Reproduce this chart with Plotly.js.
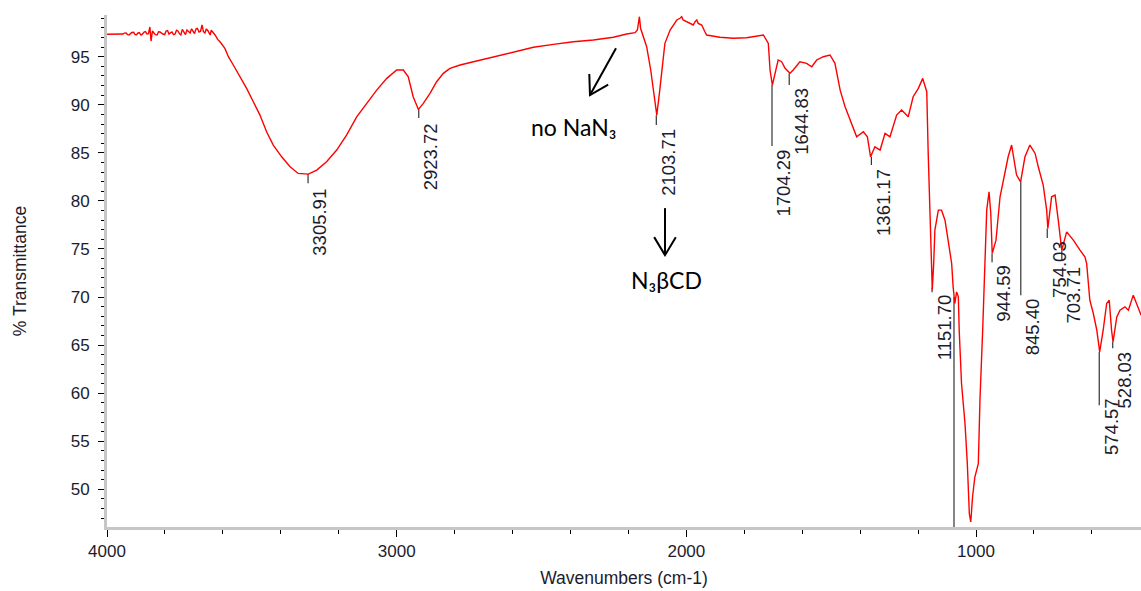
<!DOCTYPE html>
<html><head><meta charset="utf-8">
<script src="https://cdn.plot.ly/plotly-3.0.1.min.js"></script>
<style>html,body{margin:0;padding:0;background:#fff}#chart{width:1141px;height:591px}</style>
</head><body><div id="chart"></div>
<script>
const wavenumber = [4000,3950,3945,3940,3934,3929,3924,3919,3914,3908,3903,3898,3893,3888,3883,3878,3872,3867,3862,3857,3852,3848,3843,3838,3833,3827,3822,3817,3812,3807,3801,3796,3791,3786,3781,3776,3770,3765,3760,3755,3750,3745,3740,3734,3729,3724,3719,3713,3708,3703,3698,3693,3688,3682,3677,3672,3667,3662,3657,3651,3648,3644,3640,3635,3627,3618,3610,3593,3581,3564,3541,3518,3495,3472,3449,3426,3397,3368,3340,3305,3276,3242,3207,3173,3138,3104,3069,3034,3000,2977,2960,2943,2925,2908,2885,2862,2839,2816,2781,2735,2666,2597,2528,2459,2390,2321,2252,2206,2177,2169,2162,2158,2149,2137,2123,2112,2102,2093,2085,2074,2056,2033,2022,2016,2011,1999,1987,1976,1970,1964,1959,1947,1936,1930,1884,1838,1792,1746,1734,1717,1711,1703,1694,1683,1671,1659,1642,1631,1608,1585,1567,1550,1527,1504,1487,1469,1452,1435,1412,1389,1375,1364,1349,1331,1314,1297,1274,1257,1234,1217,1199,1184,1170,1165,1159,1155,1151,1146,1142,1130,1119,1107,1096,1084,1079,1073,1067,1061,1058,1050,1038,1030,1023,1018,1012,1004,992,986,977,969,963,955,949,944,931,917,900,889,877,860,846,831,814,796,785,768,756,752,739,727,716,704,687,664,641,624,618,607,595,583,573,561,549,540,532,527,514,503,486,474,457,440,430];
const transmittance = [97.33,97.33,97.36,97.45,97.47,97.30,97.26,97.40,97.52,97.55,97.31,97.28,97.47,97.50,97.26,97.35,97.57,97.62,97.36,97.40,98.09,96.63,97.70,97.47,97.30,97.26,97.60,97.57,97.45,97.36,97.30,97.68,97.72,97.36,97.48,97.57,97.30,97.36,97.75,97.68,97.40,97.26,97.85,97.47,97.30,97.78,97.60,97.47,97.90,97.68,97.40,97.88,97.95,97.57,97.65,98.30,97.60,97.47,97.90,97.68,97.50,97.26,97.75,97.60,97.26,96.80,96.56,95.87,95.00,94.14,92.92,91.71,90.32,88.93,87.19,85.81,84.59,83.55,82.86,82.79,83.21,84.07,85.29,86.85,88.75,90.15,91.53,92.75,93.62,93.62,92.92,90.84,89.52,90.15,91.19,92.40,93.27,93.79,94.14,94.48,95.00,95.52,95.98,96.29,96.56,96.74,97.02,97.36,97.50,97.78,99.16,97.96,97.08,96.04,93.62,91.19,88.93,91.19,93.62,96.39,97.78,98.82,99.00,99.16,98.82,98.64,98.47,98.30,98.64,98.82,98.47,98.30,97.60,97.26,97.02,96.92,96.98,97.26,97.26,96.39,93.62,92.05,93.27,94.66,94.48,93.79,93.27,93.62,94.48,94.31,93.96,94.66,95.00,95.18,94.31,91.53,89.80,88.41,86.67,87.19,86.67,84.59,85.63,85.29,87.03,86.67,88.93,89.45,88.75,90.84,91.71,92.75,91.36,84.94,78.00,72.45,70.80,73.50,76.96,79.04,79.04,78.00,75.92,73.49,71.06,69.33,70.54,70.02,66.55,61.00,56.84,52.68,47.47,46.60,49.20,51.28,52.68,59.61,66.55,73.49,79.04,80.95,78.70,74.54,75.92,80.43,83.21,84.59,85.81,82.69,81.99,84.59,85.81,84.94,83.55,81.65,79.04,77.14,80.43,80.60,78.00,74.88,76.78,75.92,74.88,74.18,73.49,69.67,68.29,66.55,64.29,66.55,69.33,69.67,66.55,65.33,67.94,68.63,68.98,68.63,70.20,68.98,68.11];

const peakWavenumber = [3305.91,2923.72,2103.71,1704.29,1644.83,1361.17,1151.70,1076,944.59,845.40,754.03,703.71,574.57,528.03];
const peakLabel = ['3305.91','2923.72','2103.71','1704.29','1644.83','1361.17','1151.70','','944.59','845.40','754.03','703.71','574.57','528.03'];
const peakLineTop = [82.79,89.50,88.90,92.05,93.27,84.59,71.00,70.00,74.54,81.99,77.14,74.88,64.29,65.33];
const peakLineEnd = [81.85,88.62,87.89,85.71,92.05,83.73,70.50,46.08,73.63,70.20,76.13,73.84,58.74,64.68];
const peakLabelTop = [81.33,88.20,87.58,85.50,91.85,83.42,70.40,null,73.42,70.00,75.92,73.32,59.58,64.47];

const noteText = ['no NaN₃', 'N₃βCD'];
const noteWn = [2391, 2067];
const noteT = [87.68, 71.76];
const arrowTailWn = [2242.8, 2073.7];
const arrowTailT = [95.87, 79.25];
const arrowHeadWn = [2332.6, 2073.7];
const arrowHeadT = [91.01, 74.36];

const xRange = [4000, 430.4];
const yRange = [46.08, 99.34];

const W = 1141, H = 591, M = {l:107, r:0, t:15, b:64};
const plotW = W - M.l - M.r, plotH = H - M.t - M.b;
const pxPerX = plotW / (xRange[0] - xRange[1]);
const pxPerY = plotH / (yRange[1] - yRange[0]);

const baseFamily = '"Liberation Sans", Arial, sans-serif';
const tickFont = {family:baseFamily, size:17, color:'#1c1c2c'};
const titleFont = {family:baseFamily, size:17.5, color:'#1c1c2c'};
const labelFont = {family:baseFamily, size:18.5, color:'#1c1c2c'};
const noteFont = {family:'Lato, "Open Sans", sans-serif', size:23, color:'#000'};

const shapes = peakWavenumber.map((w,i)=>({type:'line', xref:'x', yref:'y', x0:w, x1:w, y0:peakLineTop[i], y1:peakLineEnd[i], line:{color:'#333', width:1.2}, layer:'below'}));

// arrows drawn as shapes: shaft + open V head
arrowTailWn.forEach((tw,i)=>{
  const hw = arrowHeadWn[i], ht = arrowHeadT[i], tt = arrowTailT[i];
  shapes.push({type:'line', xref:'x', yref:'y', x0:tw, y0:tt, x1:hw, y1:ht, line:{color:'#000', width:2}});
  const dx = -(tw - hw) * pxPerX, dy = -(tt - ht) * pxPerY;
  const len = Math.hypot(dx, dy), ux = dx/len, uy = dy/len;
  const armLen = 21, ang = 31 * Math.PI/180;
  const arms = [ang, -ang].map(a=>{
    const rx = ux*Math.cos(a) - uy*Math.sin(a), ry = ux*Math.sin(a) + uy*Math.cos(a);
    return [hw - rx*armLen/pxPerX, ht - ry*armLen/pxPerY];
  });
  shapes.push({type:'path', xref:'x', yref:'y', path:`M${arms[0][0]},${arms[0][1]} L${hw},${ht} L${arms[1][0]},${arms[1][1]}`, line:{color:'#000', width:2}});
});

const annotations = [];
peakWavenumber.forEach((w,i)=>{
  if(!peakLabel[i]) return;
  annotations.push({x:w, y:peakLabelTop[i], xref:'x', yref:'y', text:peakLabel[i], textangle:-90, showarrow:false, xanchor:'center', yanchor:'top', xshift:12, font:labelFont, borderpad:0});
});
noteText.forEach((t,i)=>{
  annotations.push({x:noteWn[i], y:noteT[i], xref:'x', yref:'y', text:t, showarrow:false, font:noteFont, xanchor:'center', yanchor:'middle'});
});

const trace = {x:wavenumber, y:transmittance, type:'scatter', mode:'lines', line:{color:'#ff0000', width:1.4}, hoverinfo:'skip'};

const layout = {
  width:W, height:H,
  margin:M,
  paper_bgcolor:'#fff', plot_bgcolor:'#fff',
  showlegend:false,
  xaxis:{range:xRange, tick0:0, dtick:1000, ticks:'outside', ticklen:7, tickwidth:1, tickcolor:'#000',
    showline:true, linecolor:'#c6c6c6', linewidth:3, showgrid:false, zeroline:false, tickfont:tickFont,
    minor:{dtick:200, tick0:0, ticks:'outside', ticklen:4, tickwidth:1, tickcolor:'#000', showgrid:false},
    title:{text:'Wavenumbers (cm-1)', font:titleFont, standoff:12}},
  yaxis:{range:yRange, tick0:0, dtick:5, ticks:'outside', ticklen:6, tickwidth:1, tickcolor:'#000',
    showline:true, linecolor:'#c6c6c6', linewidth:3, showgrid:false, zeroline:false, tickfont:tickFont,
    minor:{dtick:1, tick0:0, ticks:'outside', ticklen:3, tickwidth:1, tickcolor:'#000', showgrid:false},
    ticklabelstandoff:5,
    title:{text:'% Transmittance', font:titleFont, standoff:40}},
  shapes:shapes,
  annotations:annotations
};
Plotly.newPlot('chart', [trace], layout, {staticPlot:true, displayModeBar:false});
</script>
</body></html>
